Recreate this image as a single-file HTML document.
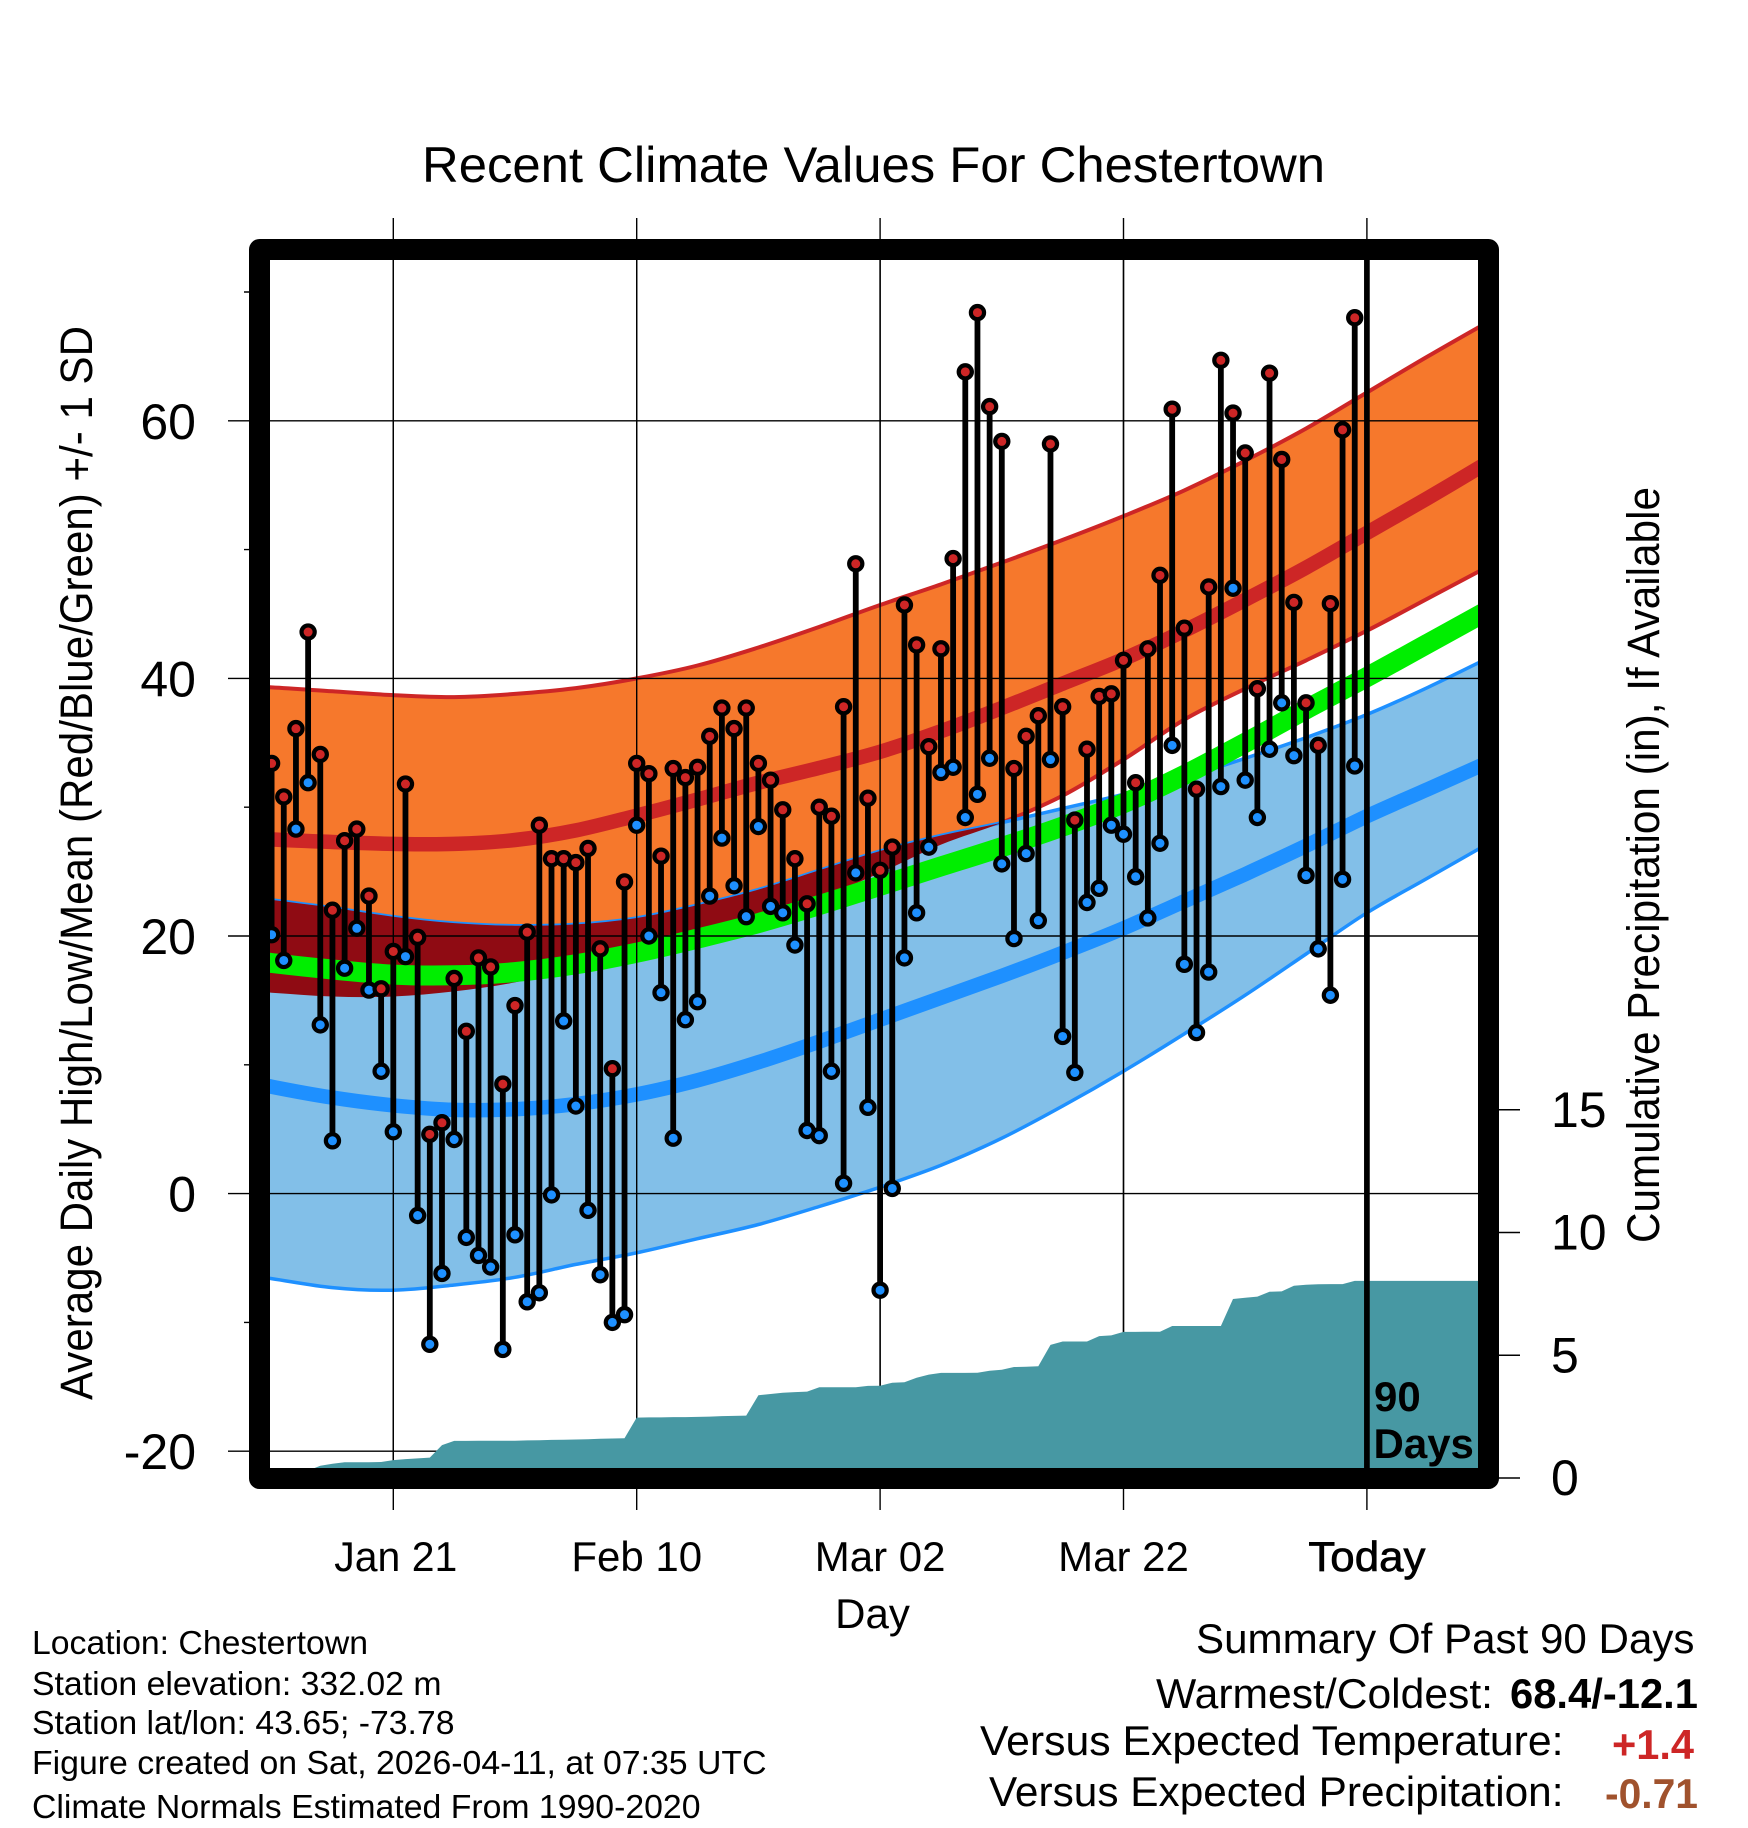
<!DOCTYPE html>
<html lang="en">
<head>
<meta charset="utf-8">
<title>Recent Climate Values For Chestertown</title>
<style>
html,body{margin:0;padding:0;background:#fff;}
svg{display:block;}
text{font-family:"Liberation Sans",sans-serif;fill:#000;}
</style>
</head>
<body>
<svg id="chart" xmlns="http://www.w3.org/2000/svg" width="1748" height="1828" viewBox="0 0 1748 1828">
  <defs>
    <clipPath id="plot-clip"><rect x="270" y="260" width="1208" height="1208"></rect></clipPath>
    <clipPath id="high-band-clip"><path id="high-band-clip-path" d=""></path></clipPath>
  </defs>
  <rect x="0" y="0" width="1748" height="1828" fill="#fff"></rect>
  <g id="axes-under"></g>
  <g clip-path="url(#plot-clip)">
    <g id="bands"></g>
    <g id="grid"></g>
    <path id="precip" fill="#4798A3" d=""></path>
    <g id="today-line-group"></g>
    <g id="marks"></g>
  </g>
  <rect x="259.5" y="249.5" width="1229" height="1229" fill="none" stroke="#000" stroke-width="21" stroke-linejoin="round"></rect>
  <g id="tick-labels"></g>

  <text x="873.5" y="182" font-size="50" text-anchor="middle" textLength="903" lengthAdjust="spacingAndGlyphs">Recent Climate Values For Chestertown</text>
  <text transform="translate(92,863) rotate(-90)" font-size="45" text-anchor="middle" textLength="1074" lengthAdjust="spacingAndGlyphs">Average Daily High/Low/Mean (Red/Blue/Green) +/- 1 SD</text>
  <text transform="translate(1659,865) rotate(-90)" font-size="45" text-anchor="middle" textLength="756" lengthAdjust="spacingAndGlyphs">Cumulative Precipitation (in), If Available</text>
  <text x="872.5" y="1628" font-size="42" text-anchor="middle">Day</text>

  <text x="1374" y="1411" font-size="42" font-weight="bold">90</text>
  <text x="1373.5" y="1458" font-size="42" font-weight="bold">Days</text>

  <g font-size="33">
    <text x="32" y="1654" textLength="336" lengthAdjust="spacingAndGlyphs">Location: Chestertown</text>
    <text x="32" y="1695" textLength="409.5" lengthAdjust="spacingAndGlyphs">Station elevation: 332.02 m</text>
    <text x="32" y="1734" textLength="422.5" lengthAdjust="spacingAndGlyphs">Station lat/lon: 43.65; -73.78</text>
    <text x="32" y="1774" textLength="734.5" lengthAdjust="spacingAndGlyphs">Figure created on Sat, 2026-04-11, at 07:35 UTC</text>
    <text x="32" y="1818" textLength="668.5" lengthAdjust="spacingAndGlyphs">Climate Normals Estimated From 1990-2020</text>
  </g>

  <g font-size="42">
    <text x="1196" y="1653" textLength="498.5" lengthAdjust="spacingAndGlyphs">Summary Of Past 90 Days</text>
    <text x="1156" y="1708" textLength="337" lengthAdjust="spacingAndGlyphs">Warmest/Coldest:</text>
    <text x="1510" y="1708" font-weight="bold" textLength="188" lengthAdjust="spacingAndGlyphs">68.4/-12.1</text>
    <text x="980" y="1755" textLength="583.5" lengthAdjust="spacingAndGlyphs">Versus Expected Temperature:</text>
    <text x="1612" y="1759" font-weight="bold" textLength="82" lengthAdjust="spacingAndGlyphs" style="fill:#CD2626">+1.4</text>
    <text x="989" y="1806" textLength="574.5" lengthAdjust="spacingAndGlyphs">Versus Expected Precipitation:</text>
    <text x="1605" y="1808" font-weight="bold" textLength="93" lengthAdjust="spacingAndGlyphs" style="fill:#A0522D">-0.71</text>
  </g>
</svg>

<script>
// Daily observed temperatures, one value per day starting 90 days before today
const highs = [33.4,30.8,36.1,43.6,34.1,22.0,27.4,28.3,23.1,15.9,18.8,31.8,19.9,4.6,5.5,16.7,12.6,18.3,17.6,8.5,
  14.6,20.3,28.6,26.0,26.0,25.7,26.8,19.0,9.7,24.2,33.4,32.6,26.2,33.0,32.3,33.1,35.5,37.7,36.1,37.7,
  33.4,32.1,29.8,26.0,22.5,30.0,29.3,37.8,48.9,30.7,25.1,26.9,45.7,42.6,34.7,42.3,49.3,63.8,68.4,61.1,
  58.4,33.0,35.5,37.1,58.2,37.8,29.0,34.5,38.6,38.8,41.4,31.9,42.3,48.0,60.9,43.9,31.4,47.1,64.7,60.6,
  57.5,39.2,63.7,57.0,45.9,38.1,34.8,45.8,59.3,68.0];
const lows = [20.1,18.1,28.3,31.9,13.1,4.1,17.5,20.6,15.8,9.5,4.8,18.4,-1.7,-11.7,-6.2,4.2,-3.4,-4.8,-5.7,-12.1,
  -3.2,-8.4,-7.7,-0.1,13.4,6.8,-1.3,-6.3,-10.0,-9.4,28.6,20.0,15.6,4.3,13.5,14.9,23.1,27.6,23.9,21.5,
  28.5,22.3,21.8,19.3,4.9,4.5,9.5,0.8,24.9,6.7,-7.5,0.4,18.3,21.8,26.9,32.7,33.1,29.2,31.0,33.8,
  25.6,19.8,26.4,21.2,33.7,12.2,9.4,22.6,23.7,28.6,27.9,24.6,21.4,27.2,34.8,17.8,12.5,17.2,31.6,47.0,
  32.1,29.2,34.5,38.1,34.0,24.7,19.0,15.4,24.4,33.2];

// Cumulative precipitation (inches) per day
const precipitation = [0,0.05,0.15,0.3,0.5,0.58,0.64,0.64,0.64,0.65,0.73,0.77,0.8,0.83,1.34,1.51,1.51,1.52,1.52,1.52,
  1.52,1.53,1.54,1.55,1.56,1.57,1.58,1.6,1.61,1.62,2.46,2.47,2.47,2.48,2.48,2.49,2.5,2.52,2.53,2.54,
  3.37,3.42,3.47,3.5,3.52,3.7,3.7,3.7,3.7,3.75,3.76,3.88,3.9,4.08,4.21,4.28,4.28,4.28,4.29,4.37,
  4.41,4.52,4.53,4.55,5.42,5.56,5.56,5.56,5.78,5.81,5.95,5.95,5.96,5.96,6.19,6.19,6.19,6.19,6.19,7.29,
  7.34,7.39,7.59,7.6,7.83,7.87,7.89,7.9,7.9,8.03];

// Climate normals read every five days
const normalDays = [-5,0,5,10,15,20,25,30,35,40,45,50,55,60,65,70,75,80,85,90,95,100];
const highUpper = [39.5,39.3,39.0,38.7,38.55,38.8,39.25,40.0,41.0,42.4,44.0,45.7,47.3,49.0,50.75,52.6,54.6,56.9,59.4,62.2,65.0,67.7];
const highMean = [27.8,27.5,27.3,27.15,27.15,27.45,28.2,29.35,30.6,31.9,33.05,34.3,35.9,37.7,39.6,41.5,43.7,46.1,48.6,51.3,54.0,56.8];
const highLower = [15.9,15.6,15.3,15.3,15.7,16.4,17.6,18.7,19.9,21.2,22.9,24.9,27.1,28.8,30.9,33.7,36.8,39.2,41.4,43.7,46.2,48.7];
const lowUpper = [23.4,22.8,22.2,21.5,21.0,20.8,20.9,21.4,22.4,23.6,25.1,26.6,27.8,28.8,29.9,31.0,32.3,33.8,35.4,37.2,39.3,41.6];
const lowMean = [9.3,8.3,7.45,6.85,6.5,6.55,6.95,7.7,8.8,10.2,11.8,13.5,15.2,16.9,18.7,20.6,22.7,24.8,27.0,29.3,31.4,33.5];
const lowLower = [-5.9,-6.6,-7.3,-7.5,-7.1,-6.5,-5.5,-4.6,-3.5,-2.4,-1.0,0.5,2.2,4.3,6.8,9.5,12.4,15.4,18.6,21.8,24.5,27.2];
const dailyMean = [18.5,17.9,17.4,17.0,16.95,17.2,17.8,18.7,19.8,21.0,22.4,23.9,25.4,26.9,28.5,30.3,32.5,35.0,37.6,40.1,42.7,45.3];

// Axis ticks
const xTickDays = [10,30,50,70,90];
const xTickLabels = ["Jan 21","Feb 10","Mar 02","Mar 22","Today"];
const yTickValues = [-20,0,20,40,60];
const yMinorValues = [-10,10,30,50,70];
const precipTickValues = [0,5,10,15];
const todayDay = 90;

const NS = "http://www.w3.org/2000/svg";
function xScale(d){ return 271.6 + 12.17 * d; }
function yScale(v){ return 1193.6 - 12.88 * v; }
function pScale(p){ return 1478 - 24.55 * p; }

function make(parent, tag, attrs){
  const el = document.createElementNS(NS, tag);
  for (const k in attrs) el.setAttribute(k, attrs[k]);
  parent.appendChild(el);
  return el;
}
function bandPoints(vals){ return normalDays.map((d,i)=>[xScale(d), yScale(vals[i])]); }
function smoothSegs(p){
  let s = "";
  for (let i=0;i<p.length-1;i++){
    const a=p[Math.max(i-1,0)], b=p[i], c=p[i+1], e=p[Math.min(i+2,p.length-1)];
    s += " C"+(b[0]+(c[0]-a[0])/6).toFixed(1)+" "+(b[1]+(c[1]-a[1])/6).toFixed(1)+" "+
         (c[0]-(e[0]-b[0])/6).toFixed(1)+" "+(c[1]-(e[1]-b[1])/6).toFixed(1)+" "+c[0].toFixed(1)+" "+c[1].toFixed(1);
  }
  return s;
}
function linePath(vals){
  const p = bandPoints(vals);
  return "M"+p[0][0].toFixed(1)+" "+p[0][1].toFixed(1)+smoothSegs(p);
}
function bandPath(up, lo){
  const a = bandPoints(up), b = bandPoints(lo).reverse();
  return "M"+a[0][0].toFixed(1)+" "+a[0][1].toFixed(1)+smoothSegs(a)+
         " L"+b[0][0].toFixed(1)+" "+b[0][1].toFixed(1)+smoothSegs(b)+" Z";
}

// Bands
const bands = document.getElementById("bands");
const highBandD = bandPath(highUpper, highLower);
const lowBandD = bandPath(lowUpper, lowLower);
document.getElementById("high-band-clip-path").setAttribute("d", highBandD);

const highFill = make(bands, "path", {d:highBandD, fill:"#F6782C"});


const highUpperLine = make(bands, "path", {d:linePath(highUpper), fill:"none", stroke:"#CD2626", "stroke-width":4});


const highLowerLine = make(bands, "path", {d:linePath(highLower), fill:"none", stroke:"#CD2626", "stroke-width":4});



const lowFill = make(bands, "path", {d:lowBandD, fill:"#82BFE8"});


const lowUpperLine = make(bands, "path", {d:linePath(lowUpper), fill:"none", stroke:"#1E90FF", "stroke-width":3.5});


const lowLowerLine = make(bands, "path", {d:linePath(lowLower), fill:"none", stroke:"#1E90FF", "stroke-width":3.5});



const overlap = make(bands, "path", {d:lowBandD, fill:"#8F0B13", "clip-path":"url(#high-band-clip)"});



const highMeanLine = make(bands, "path", {d:linePath(highMean), fill:"none", stroke:"#CD2626", "stroke-width":14.5});


const lowMeanLine = make(bands, "path", {d:linePath(lowMean), fill:"none", stroke:"#1E90FF", "stroke-width":14.5});


const dailyMeanLine = make(bands, "path", {d:linePath(dailyMean), fill:"none", stroke:"#00EE00", "stroke-width":20});



// Grid lines inside plot
const grid = document.getElementById("grid");
yTickValues.forEach(v=>{
  const l = make(grid, "line", {x1:270, x2:1478, y1:yScale(v), y2:yScale(v), stroke:"#000", "stroke-width":1.4});
  
  
});
xTickDays.forEach(d=>{
  const l = make(grid, "line", {x1:xScale(d), x2:xScale(d), y1:260, y2:1468, stroke:"#000", "stroke-width":1.4});
  
  
});

// Ticks outside the frame
const under = document.getElementById("axes-under");
yTickValues.forEach(v=>{
  const l = make(under, "line", {x1:228, x2:270, y1:yScale(v), y2:yScale(v), stroke:"#000", "stroke-width":1.4});
  
  
});
yMinorValues.forEach(v=>{
  const l = make(under, "line", {x1:244, x2:270, y1:yScale(v), y2:yScale(v), stroke:"#000", "stroke-width":1.4});
  
  
});
xTickDays.forEach(d=>{
  const l = make(under, "line", {x1:xScale(d), x2:xScale(d), y1:218, y2:1510, stroke:"#000", "stroke-width":1.4});
  
  
});
precipTickValues.forEach(p=>{
  const l = make(under, "line", {x1:1490, x2:1520, y1:pScale(p), y2:pScale(p), stroke:"#000", "stroke-width":1.4});
  
  
});

// Cumulative precipitation area (last value held to the axis end)
let pd = "M"+xScale(0)+" "+pScale(0);
precipitation.forEach((p,i)=>{ pd += " L"+xScale(i).toFixed(1)+" "+pScale(p).toFixed(1); });
pd += " L1480 "+pScale(precipitation[precipitation.length-1]).toFixed(1)+" L1480 1470 L"+xScale(0)+" 1470 Z";
document.getElementById("precip").setAttribute("d", pd);

// Today marker
const todayLine = make(document.getElementById("today-line-group"), "line", {x1:xScale(todayDay), x2:xScale(todayDay), y1:260, y2:1468, stroke:"#000", "stroke-width":5.7});



// Daily stems and markers
const marks = document.getElementById("marks");
highs.forEach((h,i)=>{
  const stem = make(marks, "line", {x1:xScale(i), x2:xScale(i), y1:yScale(h), y2:yScale(lows[i]), stroke:"#000", "stroke-width":5.8});
  
  
  const lowDot = make(marks, "circle", {cx:xScale(i), cy:yScale(lows[i]), r:6.6, fill:"#1E90FF", stroke:"#000", "stroke-width":4.2});
  
  
  const highDot = make(marks, "circle", {cx:xScale(i), cy:yScale(h), r:6.6, fill:"#CD2626", stroke:"#000", "stroke-width":4.2});
  
  
});

// Tick labels
const labels = document.getElementById("tick-labels");
yTickValues.forEach(v=>{
  const t = make(labels, "text", {x:196, y:yScale(v)+18, "font-size":50, "text-anchor":"end"});
  
  
  t.textContent = String(v);
});
xTickDays.forEach((d,i)=>{
  const t = make(labels, "text", {x:xScale(d), y:1571, "font-size":42, "text-anchor":"middle"});
  
  
  t.textContent = xTickLabels[i];
  if (xTickLabels[i] === "Today") {
    t.setAttribute("textLength", "117");
    t.setAttribute("lengthAdjust", "spacingAndGlyphs");
    t.setAttribute("stroke", "#000");
    t.setAttribute("stroke-width", "0.7");
  }
  if (xTickLabels[i] === "Jan 21") {
    t.setAttribute("x", String(xScale(d) + 2.5));
    t.setAttribute("textLength", "123");
    t.setAttribute("lengthAdjust", "spacingAndGlyphs");
  }
});
precipTickValues.forEach(p=>{
  const t = make(labels, "text", {x:1551, y:pScale(p)+17, "font-size":50});
  
  
  t.textContent = String(p);
});
</script>
</body>
</html>
